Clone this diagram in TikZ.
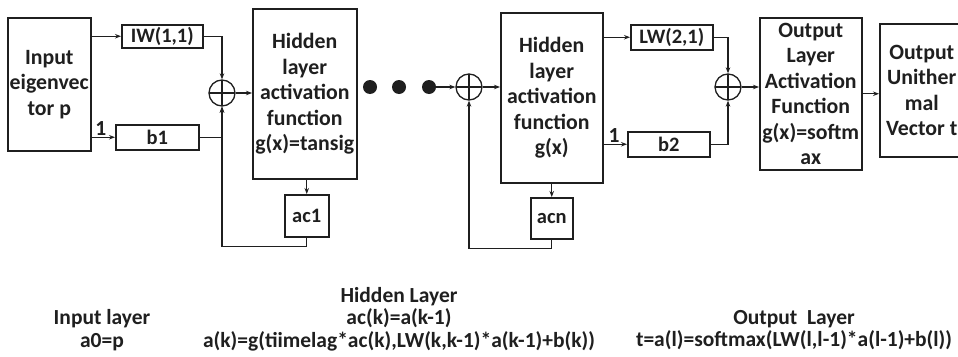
\documentclass[tikz,border=0pt]{standalone}
\usepackage{fontspec}
\setmainfont{Carlito}
\usetikzlibrary{arrows.meta}
\definecolor{ink}{HTML}{1F1F1F}
\begin{document}
\begin{tikzpicture}[x=1pt,y=-1pt,
  box/.style={draw=ink, text=ink, line width=1.5pt, inner sep=0pt, align=center,
    anchor=north west, font=\fontsize{21.8}{25.5}\selectfont\bfseries},
  smallbox/.style={box, font=\fontsize{20.5}{24}\selectfont\bfseries},
  sum/.style={circle, draw=ink, line width=1.3pt, minimum size=26pt, inner sep=0pt,
    path picture={\draw[ink, line width=1.1pt]
      (path picture bounding box.north) -- (path picture bounding box.south)
      (path picture bounding box.west) -- (path picture bounding box.east);}},
  dot/.style={circle, fill=ink, minimum size=14pt, inner sep=0pt},
  arr/.style={draw=ink, line width=1.3pt, -{Stealth[length=6pt,width=4.5pt]}},
  lbl/.style={text=ink, font=\fontsize{21.5}{25}\selectfont\bfseries, inner sep=1pt},
  note/.style={text=ink, align=center, font=\fontsize{21.5}{22.5}\selectfont\bfseries}]
\useasboundingbox[fill=white] (0,0) rectangle (958,356);

% first stage: input, weights, bias, summing junction, hidden layer
\node[box, minimum width=83pt, minimum height=133pt] (in) at (7,17) {Input\\eigenvec\\tor p};
\node[smallbox, minimum width=81pt, minimum height=23pt] (iw) at (121,24) {IW(1,1)};
\node[smallbox, minimum width=83pt, minimum height=25pt] (b1) at (115,124) {b1};
\node[sum] (s1) at (222,93) {};
\node[box, minimum width=104pt, minimum height=170pt] (h1) at (252,8)
  {Hidden\\layer\\activation\\function\\g(x)=tansig};
\node[smallbox, minimum width=44pt, minimum height=42pt] (ac1) at (284,194) {ac1};

% ellipsis dots
\node[dot] (d1) at (370,87) {};
\node[dot] (d2) at (399,87) {};
\node[dot] (d3) at (429,87) {};

% last hidden stage
\node[sum] (s2) at (469,87) {};
\node[box, minimum width=102pt, minimum height=170pt] (h2) at (500,12)
  {Hidden\\layer\\activation\\function\\g(x)};
\node[smallbox, minimum width=42pt, minimum height=41pt] (acn) at (530,197) {acn};

% output stage
\node[smallbox, minimum width=82pt, minimum height=25pt] (lw) at (630,24) {LW(2,1)};
\node[smallbox, minimum width=82pt, minimum height=25pt] (b2) at (627,131) {b2};
\node[sum] (s3) at (728,87) {};
\node[box, minimum width=102pt, minimum height=152pt] (ol) at (759,17)
  {Output\\Layer\\Activation\\Function\\g(x)=softm\\ax};
\node[box, minimum width=84pt, minimum height=133pt] (ov) at (879,23)
  {Output\\Unither\\mal\\Vector t};

% connectors of the first stage
\draw[arr] (in.east |- iw.west) -- (iw.west);
\draw[arr] (in.east |- b1.west) -- (b1.west) node[lbl, above, pos=0.4] {1};
\draw[arr] (iw.east) -| (s1.north);
\draw[arr] (b1.east) -| (s1.south);
\draw[arr] (s1.east) -- (s1.east -| h1.west);
\draw[arr] (ac1.north |- h1.south) -- (ac1.north);
\draw[arr] (ac1.south) -- ++(0,9) -| (s1.south);

% connectors of the last hidden stage
\draw[arr] (d3.east) -- (s2.west);
\draw[arr] (s2.east) -- (s2.east -| h2.west);
\draw[arr] (acn.north |- h2.south) -- (acn.north);
\draw[arr] (acn.south) -- ++(0,9) -| (s2.south);

% connectors of the output stage
\draw[arr] (h2.east |- lw.west) -- (lw.west);
\draw[arr] (h2.east |- b2.west) -- (b2.west) node[lbl, above, pos=0.45] {1};
\draw[arr] (lw.east) -| (s3.north);
\draw[arr] (b2.east) -| (s3.south);
\draw[arr] (s3.east) -- (s3.east -| ol.west);
\draw[arr] (ol.east) -- (ol.east -| ov.west);

% layer equations
\node[note] (tin) at (102,330) {Input layer\\a0=p};
\node[note] (thid) at (399,319) {Hidden Layer\\ac(k)=a(k-1)\\a(k)=g(tiimelag*ac(k),LW(k,k-1)*a(k-1)+b(k))};
\node[note] (tout) at (794,330) {Output\ \ Layer\\t=a(l)=softmax(LW(l,l-1)*a(l-1)+b(l))};
\end{tikzpicture}
\end{document}
